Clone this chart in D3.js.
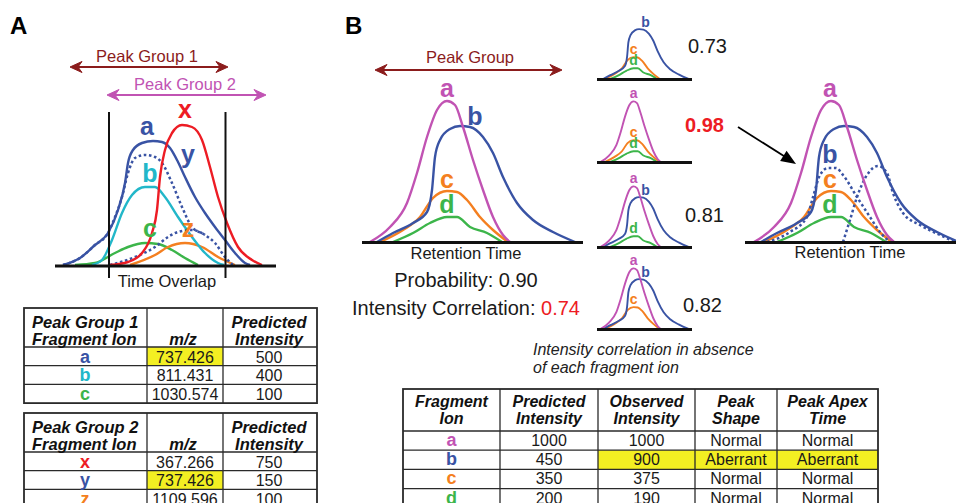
<!DOCTYPE html>
<html><head><meta charset="utf-8">
<script src="https://cdn.jsdelivr.net/npm/d3@7"></script>
<style>
body{margin:0;background:#fff}
svg{display:block}
text{font-family:"Liberation Sans",Arial,Helvetica,sans-serif}
</style>
</head><body>
<svg id="c" width="956" height="503"></svg>
<script>
// ---------------- DATA ----------------
// Panel A peak traces: [retention time, intensity]
const peakA_a = [[8,0],[25,7],[40,20],[53,32],[63,55],[70,82],[73,102],[78,115],[87,122],[98,124],[107,123],[115,117],[123,103],[130,88],[140,68],[150,52],[160,38],[170,25],[180,12],[190,2],[195,0]];
const peakA_yDot1 = [[8,0],[25,7],[40,20],[53,32],[60,48],[67,68],[73,92],[80,107],[90,110],[100,108],[107,102],[117,82],[127,58],[137,38],[150,30],[160,22],[170,8],[178,0]];
const peakA_yDot2 = [[55,0],[80,8],[100,18],[113,28],[123,33],[137,35],[150,30]];
const peakA_b = [[37,0],[47,5],[57,25],[67,52],[77,70],[90,78],[100,78],[110,68],[123,48],[137,28],[150,12],[163,2],[169,0]];
const peakA_c = [[20,0],[40,2],[60,12],[73,18],[90,22],[103,21],[117,15],[130,7],[143,0]];
const peakA_z = [[75,0],[100,10],[113,18],[130,22],[147,18],[163,8],[180,0]];
const peakA_x = [[55,0],[73,3],[87,12],[97,32],[102,55],[105,88],[110,115],[117,132],[127,140],[137,138],[147,125],[155,98],[163,68],[172,42],[183,18],[197,5],[207,0]];

// Panel B peak traces
const peakB_a = [[8,0],[28,15],[45,39],[55,69],[65,105],[75,132],[85,141],[93,137],[101,115],[111,82],[121,52],[131,25],[141,7],[148,0]];
const peakB_b = [[15,0],[31,9],[51,19],[65,30],[70,52],[73,85],[78,102],[88,113],[98,116],[108,115],[121,105],[131,89],[141,65],[155,39],[171,22],[191,10],[213,0]];
const peakB_c = [[18,0],[41,12],[58,25],[71,44],[85,51],[95,50],[105,42],[118,25],[131,12],[146,0]];
const peakB_d = [[31,0],[51,9],[68,19],[85,25],[95,25],[108,15],[125,9],[140,0]];
const peakB_bDot1 = [[21,0],[44,10],[61,25],[67,45],[74,67],[82,74],[90,74],[97,67],[111,45],[124,25],[134,10],[144,0]];
const peakB_bDot2 = [[97,0],[104,22],[111,45],[121,67],[132,76],[141,69],[147,49],[157,29],[174,17],[194,7],[209,0]];

// Correlation without each ion
const omittedIon = ["a","b","c","d"];
const corrWithout = ["0.73","0.98","0.81","0.82"];
const probability = "0.90";
const intensityCorr = "0.74";

// Tables, panel A
const g1Ions = ["a","b","c"];
const g1Mz = ["737.426","811.431","1030.574"];
const g1Pred = ["500","400","100"];
const g2Ions = ["x","y","z"];
const g2Mz = ["367.266","737.426","1109.596"];
const g2Pred = ["750","150","100"];

// Table, panel B
const bIons = ["a","b","c","d"];
const bPred = ["1000","450","350","200"];
const bObs = ["1000","900","375","190"];
const bShape = ["Normal","Aberrant","Normal","Normal"];
const bApex = ["Normal","Aberrant","Normal","Normal"];

// ---------------- STYLE ----------------
const BLUE="#3953a4", CYAN="#22b7c9", GREEN="#3cb54a", ORANGE="#f47f20", RED="#ed1c24", MAG="#c153b3", DRED="#8b1c1c", YEL="#f3ef22";
const colorA = {a:BLUE,b:CYAN,c:GREEN,x:RED,y:BLUE,z:ORANGE};
const colorB = {a:MAG,b:BLUE,c:ORANGE,d:GREEN};
const peaksB = {a:peakB_a,b:peakB_b,c:peakB_c,d:peakB_d};

const svg = d3.select("#c");

function txt(x,y,s,o={}){
  return svg.append("text").attr("x",x).attr("y",y).text(s)
    .attr("font-size",o.size||16)
    .attr("font-weight",o.bold?"bold":"normal")
    .attr("font-style",o.italic?"italic":"normal")
    .attr("text-anchor",o.anchor||"middle")
    .attr("fill",o.fill||"#1a1a1a");
}
function hline(x1,x2,y,w,c){
  svg.append("line").attr("x1",x1).attr("x2",x2).attr("y1",y).attr("y2",y).attr("stroke",c||"#111").attr("stroke-width",w);
}
function vline(x,y1,y2,w,c){
  svg.append("line").attr("x1",x).attr("x2",x).attr("y1",y1).attr("y2",y2).attr("stroke",c||"#111").attr("stroke-width",w);
}
function trace(data,xs,ys,color,w,dash){
  const gen = d3.line().x(d=>xs(d[0])).y(d=>ys(d[1])).curve(d3.curveMonotoneX);
  const p = svg.append("path").datum(data).attr("d",gen).attr("fill","none")
    .attr("stroke",color).attr("stroke-width",w).attr("stroke-linejoin","round");
  if(dash) p.attr("stroke-dasharray",dash).attr("stroke-linecap","butt");
  return p;
}
function dblArrow(x1,x2,y,color){
  svg.append("line").attr("x1",x1+6).attr("x2",x2-6).attr("y1",y).attr("y2",y).attr("stroke",color).attr("stroke-width",2.2);
  svg.append("path").attr("d",`M${x1},${y}L${x1+12},${y-5.5}L${x1+8},${y}L${x1+12},${y+5.5}Z`).attr("fill",color).attr("stroke",color).attr("stroke-width",1).attr("stroke-linejoin","round");
  svg.append("path").attr("d",`M${x2},${y}L${x2-12},${y-5.5}L${x2-8},${y}L${x2-12},${y+5.5}Z`).attr("fill",color).attr("stroke",color).attr("stroke-width",1).attr("stroke-linejoin","round");
}

// ---------------- PANEL A ----------------
txt(10,34,"A",{size:24,bold:true,anchor:"start",fill:"#000"});
dblArrow(70,228,67,DRED);
txt(147,62,"Peak Group 1",{size:16.5,fill:DRED});
dblArrow(107,266,95,MAG);
txt(185,90,"Peak Group 2",{size:16.5,fill:MAG});

const xA = d3.scaleLinear().domain([0,221]).range([55,276]);
const yA = d3.scaleLinear().domain([0,160]).range([265,105]);

trace(peakA_c,xA,yA,GREEN,2.4);
trace(peakA_z,xA,yA,ORANGE,2.4);
trace(peakA_b,xA,yA,CYAN,2.4);
trace(peakA_yDot2,xA,yA,BLUE,2.5,"2.6 2.6");
trace(peakA_yDot1,xA,yA,BLUE,2.5,"2.6 2.6");
trace(peakA_a,xA,yA,BLUE,2.4);
trace(peakA_x,xA,yA,RED,2.4);

vline(109,112,278,2);
vline(225.5,112,278,2);
hline(xA.range()[0],xA.range()[1],266,3);
txt(167,287,"Time Overlap",{size:16.5});

const labA = [["a",92,130],["b",95,83],["c",95,28],["x",130,147],["y",133,102],["z",133,28]];
labA.forEach(([s,t,i])=>txt(xA(t),yA(i),s,{size:25,bold:true,fill:colorA[s]}));

// ---------------- TABLES ----------------
function table(colX, top, headH, rowH, nRows, highlight){
  const bottom = top+headH+rowH*nRows;
  highlight.forEach(([r,c])=>{
    svg.append("rect").attr("x",colX[c]).attr("y",top+headH+rowH*r)
      .attr("width",colX[c+1]-colX[c]).attr("height",rowH).attr("fill",YEL);
  });
  svg.append("rect").attr("x",colX[0]).attr("y",top).attr("width",colX[colX.length-1]-colX[0])
    .attr("height",bottom-top).attr("fill","none").attr("stroke","#2a2a2a").attr("stroke-width",1.8);
  colX.slice(1,-1).forEach(x=>vline(x,top,bottom,1.3,"#2a2a2a"));
  hline(colX[0],colX[colX.length-1],top+headH,1.3,"#2a2a2a");
  for(let r=1;r<nRows;r++) hline(colX[0],colX[colX.length-1],top+headH+rowH*r,1.3,"#2a2a2a");
  return bottom;
}

function tableA(top, heads, ions, mz, pred, hiRow){
  const colX=[24,147,223,317], headH=39, rowH=18.7;
  table(colX,top,headH,rowH,ions.length,[[hiRow,1]]);
  txt(32,top+20,heads[0][0],{size:16.5,bold:true,italic:true,anchor:"start",fill:"#111"});
  txt(32,top+37,heads[0][1],{size:16.5,bold:true,italic:true,anchor:"start",fill:"#111"});
  txt(183,top+37,heads[1],{size:16.5,bold:true,italic:true,fill:"#111"});
  txt(269,top+20,heads[2][0],{size:16.5,bold:true,italic:true,fill:"#111"});
  txt(269,top+37,heads[2][1],{size:16.5,bold:true,italic:true,fill:"#111"});
  ions.forEach((ion,r)=>{
    const y = top+headH+rowH*r+15.5;
    txt(85,y,ion,{size:18,bold:true,fill:colorA[ion]});
    txt(185,y,mz[r],{size:16});
    txt(269,y,pred[r],{size:16});
  });
}
const sharedMz = g1Mz.filter(m=>g2Mz.includes(m))[0];
tableA(308,[["Peak Group 1","Fragment Ion"],"m/z",["Predicted","Intensity"]],g1Ions,g1Mz,g1Pred,g1Mz.indexOf(sharedMz));
tableA(413,[["Peak Group 2","Fragment Ion"],"m/z",["Predicted","Intensity"]],g2Ions,g2Mz,g2Pred,g2Mz.indexOf(sharedMz));

// ---------------- PANEL B ----------------
txt(345,34,"B",{size:24,bold:true,anchor:"start",fill:"#000"});
dblArrow(375,562,70,DRED);
txt(470,63,"Peak Group",{size:16.5,fill:DRED});

const xB = d3.scaleLinear().domain([0,221]).range([362,583]);
const yB = d3.scaleLinear().domain([0,150]).range([242,92]);
["d","c","b","a"].forEach(k=>trace(peaksB[k],xB,yB,colorB[k],2.4));
hline(xB.range()[0],xB.range()[1],242.5,3);
txt(466,259,"Retention Time",{size:16.5});
const labB = {a:[85,145],b:[113,117],c:[85,54],d:[85,29]};
Object.entries(labB).forEach(([k,[t,i]])=>txt(xB(t),yB(i),k,{size:25,bold:true,fill:colorB[k]}));

txt(466,287,"Probability: "+probability,{size:20});
const ic = txt(466,315,"Intensity Correlation: ",{size:20});
ic.append("tspan").attr("fill",RED).text(intensityCorr);

// small panels: intensity correlation with each ion left out
const smallBase = [79,162,247,329];
const corrX = [688,685,685,683];
const corrY = [53,132,222,312];
const xS = d3.scaleLinear().domain([0,221]).range([597,692]);
const kS = (xS.range()[1]-xS.range()[0])/221;
omittedIon.forEach((om,i)=>{
  const base = smallBase[i];
  const yS = d3.scaleLinear().domain([0,150]).range([base, base-150*kS]);
  const keep = bIons.filter(k=>k!==om);
  keep.slice().reverse().forEach(k=>trace(peaksB[k],xS,yS,colorB[k],1.9));
  hline(xS.range()[0],xS.range()[1],base+0.5,2.8);
  keep.forEach(k=>{ const [t,v]=labB[k]; txt(xS(t),yS(v)-1.5,k,{size:14,bold:true,fill:colorB[k]}); });
  const best = corrWithout[i]===d3.max(corrWithout);
  txt(corrX[i],corrY[i],corrWithout[i],{size:20,bold:best,fill:best?RED:"#1a1a1a",anchor:"start"});
});

// arrow to corrected panel
svg.append("line").attr("x1",738).attr("y1",127).attr("x2",787).attr("y2",158).attr("stroke","#000").attr("stroke-width",1.8);
(function(){
  const tx=796, ty=164, ang=Math.atan2(164-127,796-738), L=15, W=6;
  const bx=tx-L*Math.cos(ang), by=ty-L*Math.sin(ang);
  const px=-Math.sin(ang)*W, py=Math.cos(ang)*W;
  svg.append("path").attr("d",`M${tx},${ty}L${bx+px},${by+py}L${bx-px},${by-py}Z`).attr("fill","#000");
})();

// corrected panel
const xR = d3.scaleLinear().domain([0,221]).range([746,967]);
trace(peakB_d,xR,yB,GREEN,2.4);
trace(peakB_c,xR,yB,ORANGE,2.4);
trace(peakB_bDot1,xR,yB,BLUE,2.5,"2.6 2.6");
trace(peakB_bDot2,xR,yB,BLUE,2.5,"2.6 2.6");
trace(peakB_b,xR,yB,BLUE,2.4);
trace(peakB_a,xR,yB,MAG,2.4);
hline(745,956,242.5,3);
txt(850,258,"Retention Time",{size:16.5});
const labR = {a:[84,145],b:[84,79],c:[84,54],d:[84,29]};
Object.entries(labR).forEach(([k,[t,i]])=>txt(xR(t),yB(i),k,{size:25,bold:true,fill:colorB[k]}));

// caption
txt(533,355,"Intensity correlation in absence",{size:16,italic:true,anchor:"start",fill:"#222"});
txt(533,373,"of each fragment ion",{size:16,italic:true,anchor:"start",fill:"#222"});

// table B
(function(){
  const colX=[403,500,598,695,777,878], top=389, headH=42, rowH=19.2;
  const hi=[];
  bShape.forEach((s,r)=>{ if(s!=="Normal"){ hi.push([r,2],[r,3],[r,4]); } });
  table(colX,top,headH,rowH,bIons.length,hi);
  const heads=[["Fragment","Ion"],["Predicted","Intensity"],["Observed","Intensity"],["Peak","Shape"],["Peak Apex","Time"]];
  heads.forEach((h,c)=>{
    const cx=(colX[c]+colX[c+1])/2;
    txt(cx,top+18,h[0],{size:16,bold:true,italic:true,fill:"#111"});
    txt(cx,top+35,h[1],{size:16,bold:true,italic:true,fill:"#111"});
  });
  const cx=c=>(colX[c]+colX[c+1])/2;
  bIons.forEach((ion,r)=>{
    const y=top+headH+rowH*r+15;
    txt(cx(0),y,ion,{size:18,bold:true,fill:colorB[ion]});
    txt(cx(1),y,bPred[r],{size:16});
    txt(cx(2),y,bObs[r],{size:16});
    txt(cx(3),y,bShape[r],{size:16});
    txt(cx(4),y,bApex[r],{size:16});
  });
})();
</script>
</body></html>
